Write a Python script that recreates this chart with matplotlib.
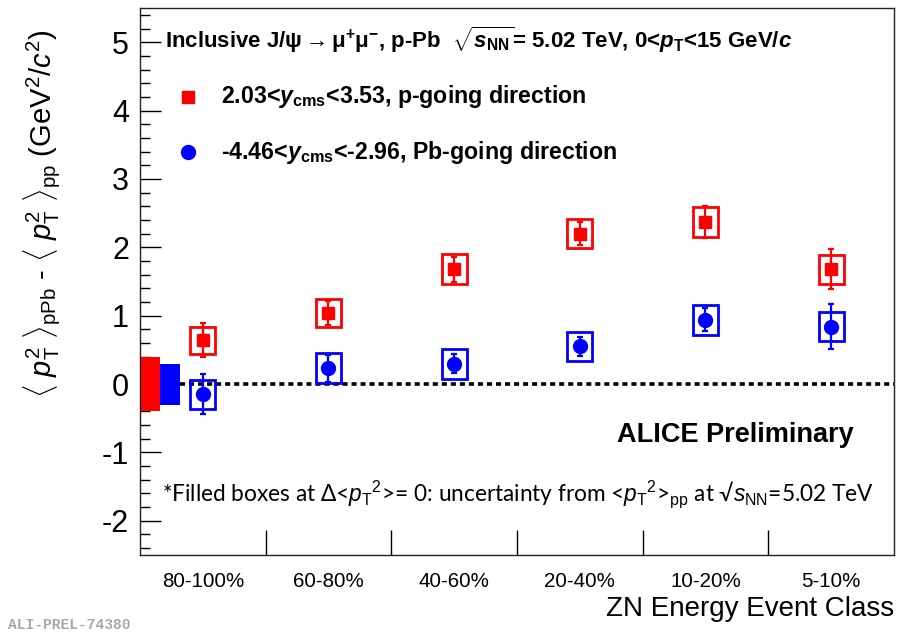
import matplotlib
matplotlib.use("Agg")
import matplotlib.pyplot as plt
from matplotlib import font_manager
from matplotlib.patches import Rectangle
from matplotlib.ticker import MultipleLocator, FixedLocator, NullFormatter, FixedFormatter

names = {f.name for f in font_manager.fontManager.ttflist}
SANS = "Liberation Sans"
CAL = "Lato" if "Lato" in names else "Open Sans"

plt.rcParams["axes.unicode_minus"] = False
plt.rcParams["mathtext.fontset"] = "custom"
plt.rcParams["mathtext.rm"] = SANS
plt.rcParams["mathtext.it"] = SANS + ":italic"
plt.rcParams["mathtext.bf"] = SANS + ":bold"
plt.rcParams["mathtext.bfit"] = SANS + ":bold:italic"

# ---- data ----
categories = ["80-100%", "60-80%", "40-60%", "20-40%", "10-20%", "5-10%"]
p_vals = [0.64, 1.04, 1.68, 2.20, 2.37, 1.68]
p_stat = [0.25, 0.17, 0.18, 0.17, 0.23, 0.29]
p_syst = [0.20, 0.20, 0.22, 0.21, 0.22, 0.21]
pb_vals = [-0.15, 0.23, 0.30, 0.55, 0.94, 0.84]
pb_stat = [0.29, 0.20, 0.14, 0.14, 0.17, 0.33]
pb_syst = [0.21, 0.22, 0.22, 0.21, 0.22, 0.21]
pp_unc = [0.40, 0.30]   # p-going, Pb-going
y_ticks = [-2, -1, 0, 1, 2, 3, 4, 5]

RED = "#ff0000"
BLUE = "#0000ff"

fig = plt.figure(figsize=(9.03, 6.35), dpi=100)
ax = fig.add_axes([140 / 903, 80 / 635, 754 / 903, 547 / 635])
ax.set_xlim(0, len(categories))
ax.set_ylim(-2.5, 5.5)

# pp reference uncertainty boxes
ax.bar([0.0], [2 * pp_unc[0]], bottom=[-pp_unc[0]], width=0.16, align="edge",
       color=RED, linewidth=0, zorder=2)
ax.bar([0.16], [2 * pp_unc[1]], bottom=[-pp_unc[1]], width=0.16, align="edge",
       color=BLUE, linewidth=0, zorder=2)

# zero line
ax.plot([0.32, len(categories)], [0, 0], color="black", lw=2.6,
        dashes=[1.4, 1.1], zorder=1)

xc = [i + 0.5 for i in range(len(categories))]
hw = 0.1
for vals, stat, syst, col, mk in [(p_vals, p_stat, p_syst, RED, "s"),
                                  (pb_vals, pb_stat, pb_syst, BLUE, "o")]:
    for x, v, s in zip(xc, vals, syst):
        ax.add_patch(Rectangle((x - hw, v - s), 2 * hw, 2 * s, fill=False,
                               edgecolor=col, lw=2.0, zorder=3))
    ax.errorbar(xc, vals, yerr=stat, fmt=mk, color=col, ms=9 if mk == "s" else 10,
                elinewidth=1.6, capsize=2.5, capthick=1.6, zorder=4)

# axes styling
for sp in ax.spines.values():
    sp.set_linewidth(1.0)
    sp.set_color("#222222")
ax.yaxis.set_major_locator(FixedLocator(y_ticks))
ax.yaxis.set_minor_locator(MultipleLocator(0.2))
ax.tick_params(axis="y", which="major", direction="in", length=15, width=1.0,
               labelsize=22, pad=8, right=False)
ax.tick_params(axis="y", which="minor", direction="in", length=7.5, width=1.0, right=False)
for lab in ax.get_yticklabels():
    lab.set_family(SANS)

ax.xaxis.set_major_locator(FixedLocator(range(1, len(categories))))
ax.xaxis.set_major_formatter(NullFormatter())
ax.xaxis.set_minor_locator(FixedLocator(xc))
ax.xaxis.set_minor_formatter(FixedFormatter(categories))
ax.tick_params(axis="x", which="major", direction="in", length=18, width=1.0, top=False)
ax.tick_params(axis="x", which="minor", length=0, labelsize=14.8, pad=12, top=False)
for lab in ax.xaxis.get_minorticklabels():
    lab.set_family(SANS)

ax.set_xlabel("ZN Energy Event Class", family=SANS, fontsize=20)
ax.xaxis.set_label_coords(1.0, -0.075)
ax.xaxis.label.set_ha("right")

fig.text(42 / 903, 1 - 214 / 635,
         r"$\langle\ p_\mathrm{T}^{2}\ \rangle_{\mathrm{pPb}}$ - $\langle\ p_\mathrm{T}^{2}\ \rangle_{\mathrm{pp}}$ (GeV$^{2}$/$c^{2}$)",
         rotation=90, ha="center", va="center", family=SANS, fontsize=21)

# title text
fig.text(165 / 903, 1 - 40 / 635,
         r"Inclusive J/$\mathbf{\psi}\mathbf{\rightarrow}\mathbf{\mu}^{\mathbf{+}}\mathbf{\mu}^{\mathbf{-}}$, p-Pb  $\mathbf{\sqrt{\mathbfit{s}_{NN}}}$= 5.02 TeV, 0<$\mathbfit{p}_\mathbf{T}$<15 GeV/$\mathbfit{c}$",
         fontsize=16, weight="bold", family=SANS, va="center")

# legend
leg_items = [(RED, "s", 97, r"2.03<$\mathbfit{y}_\mathbf{cms}$<3.53, p-going direction"),
             (BLUE, "o", 152, r"-4.46<$\mathbfit{y}_\mathbf{cms}$<-2.96, Pb-going direction")]
for col, mk, ypix, txt in leg_items:
    fig.lines.append(plt.Line2D([188 / 903], [1 - ypix / 635], marker=mk, color=col,
                                ms=9 if mk == "s" else 10, linestyle="none",
                                transform=fig.transFigure, figure=fig))
    fig.text(221 / 903, 1 - ypix / 635, txt, fontsize=16.7, weight="bold",
             family=SANS, va="center")

fig.text(617 / 903, 1 - 435 / 635, "ALICE Preliminary", fontsize=19.5,
         weight="bold", family=SANS, va="center")

fig.text(162 / 903, 1 - 494 / 635,
         r"*Filled boxes at Δ<$p_\mathrm{T}{}^{2}$>= 0: uncertainty from <$p_\mathrm{T}{}^{2}$>$_\mathrm{pp}$ at √$s_\mathrm{NN}$=5.02 TeV",
         fontsize=16.3, family=CAL, va="center")

fig.text(8 / 903, 1 - 625 / 635, "ALI-PREL-74380", fontsize=10.5,
         family="Liberation Mono", weight="bold", color="#a8a8a8", va="center")

fig.savefig("out.png", dpi=100)
